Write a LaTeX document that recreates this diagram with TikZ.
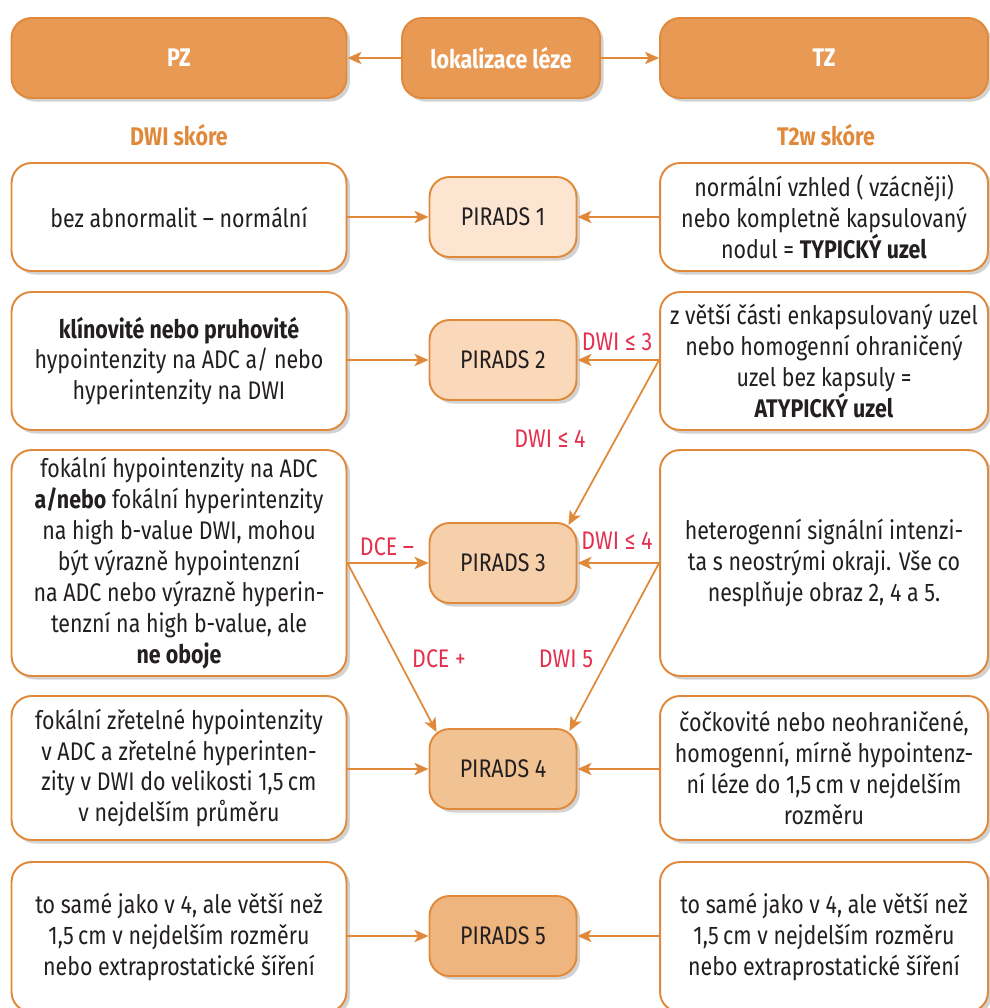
\documentclass[tikz,border=0pt]{standalone}
\usepackage{fontspec}
\setmainfont{Fira Sans}[FakeStretch=0.84]
\usepackage{xcolor}
\usepackage{tikz}
\usetikzlibrary{positioning}
\usetikzlibrary{calc}
\usetikzlibrary{shadows}
\usetikzlibrary{arrows.meta}

\definecolor{frame}{RGB}{224,137,58}
\definecolor{topfill}{RGB}{232,154,85}
\definecolor{ink}{RGB}{35,31,32}
\definecolor{cond}{RGB}{227,48,79}
\definecolor{pr1}{RGB}{252,230,210}
\definecolor{pr2}{RGB}{249,217,185}
\definecolor{pr3}{RGB}{246,208,170}
\definecolor{pr4}{RGB}{242,195,146}
\definecolor{pr5}{RGB}{238,182,126}

\begin{document}
\begin{tikzpicture}
    [%%%%%%%%%%%%%%%%%%%%%%%%%%%%%%
        x=0.02cm, y=-0.02cm,
        every node/.style={font=\fontsize{14.5}{17.6}\selectfont, text=ink},
        shade/.style={drop shadow={shadow xshift=2pt, shadow yshift=-2pt, opacity=0.25, fill=black!70}},
        head/.style={rectangle, rounded corners=0.4cm, draw=frame, fill=topfill, line width=1.1pt,
            minimum width=6.7cm, minimum height=1.6cm, text=white, font=\fontsize{14.5}{17.6}\selectfont\bfseries, shade},
        score/.style={text=frame, font=\fontsize{14.5}{17.6}\selectfont\bfseries},
        finding/.style={rectangle, rounded corners=0.4cm, draw=frame, fill=white, line width=1.1pt,
            minimum width=6.7cm, align=center, shade},
        grade/.style={rectangle, rounded corners=0.4cm, draw=frame, line width=1.1pt,
            minimum width=2.94cm, minimum height=1.6cm, shade},
        link/.style={draw=frame, line width=1pt, -{Stealth[length=8pt, width=7pt, inset=2pt]}},
        condlabel/.style={text=cond}
    ]%%%%%%%%%%%%%%%%%%%%%%%%%%%%%%

\clip (0,0) rectangle (990,1008);
\useasboundingbox (0,0) rectangle (990,1008);

% location
\node[head] (pz) at (179,58) {PZ};
\node[head, minimum width=3.96cm] (lok) at (501,58) {lokalizace léze};
\node[head, minimum width=6.56cm] (tz) at (824,58) {TZ};
\draw[link] (lok.west) -- (pz.east);
\draw[link] (lok.east) -- (tz.west);

\node[score] (dwi) at (179,135) {DWI skóre};
\node[score] (t2w) at (826,135) {T2w skóre};

% PIRADS grades
\foreach \n/\y/\c in {1/217/pr1, 2/360/pr2, 3/563/pr3, 4/769/pr4, 5/936/pr5}
{
    \node[grade, fill=\c] (p\n) at (503,\y) {PIRADS \n};
}

% PZ findings
\node[finding, minimum height=2.16cm] (l1) at (179,217) {bez abnormalit – normální};
\node[finding, minimum height=2.76cm] (l2) at (179,361) {\textbf{klínovité nebo pruhovité}\\ hypointenzity na ADC a/ nebo\\ hyperintenzity na DWI};
\node[finding, minimum height=4.52cm] (l3) at (179,563) {fokální hypointenzity na ADC\\ \textbf{a/nebo} fokální hyperintenzity\\ na high b-value DWI, mohou\\ být výrazně hypointenzní\\ na ADC nebo výrazně hyperin-\\ tenzní na high b-value, ale\\ \textbf{ne oboje}};
\node[finding, minimum height=2.88cm] (l4) at (179,768) {fokální zřetelné hypointenzity\\ v ADC a zřetelné hyperinten-\\ zity v DWI do velikosti 1,5\,cm\\ v nejdelším průměru};
\node[finding, minimum height=3.0cm] (l5) at (179,937) {to samé jako v 4, ale větší než\\ 1,5\,cm v nejdelším rozměru\\ nebo extraprostatické šíření};

% TZ findings
\node[finding, minimum width=6.56cm, minimum height=2.16cm] (r1) at (824,217) {normální vzhled ( vzácněji)\\ nebo kompletně kapsulovaný\\ nodul = \textbf{TYPICKÝ uzel}};
\node[finding, minimum width=6.56cm, minimum height=2.76cm] (r2) at (824,361) {z větší části enkapsulovaný uzel\\ nebo homogenní ohraničený\\ uzel bez kapsuly =\\ \textbf{ATYPICKÝ uzel}};
\node[finding, minimum width=6.56cm, minimum height=4.52cm] (r3) at (824,563) {heterogenní signální intenzi-\\ ta s neostrými okraji. Vše co\\ nesplňuje obraz 2, 4 a 5.};
\node[finding, minimum width=6.56cm, minimum height=2.88cm] (r4) at (824,768) {čočkovité nebo neohraničené,\\ homogenní, mírně hypointenz-\\ ní léze do 1,5\,cm v nejdelším\\ rozměru};
\node[finding, minimum width=6.56cm, minimum height=3.0cm] (r5) at (824,937) {to samé jako v 4, ale větší než\\ 1,5\,cm v nejdelším rozměru\\ nebo extraprostatické šíření};

% connectors
\foreach \n in {1,...,5}
{
    \draw[link] (l\n.east |- p\n) -- (p\n.west);
    \draw[link] (r\n.west |- p\n) -- (p\n.east);
}
\draw[link] (r2.west |- p2) -- ($(p3.north east)+(-9,3)$);
\draw[link] (l3.east |- p3) -- ($(p4.north west)+(8,4)$);
\draw[link] (r3.west |- p3) -- ($(p4.north east)+(-8,3)$);

% conditions
\node[condlabel] (c23) at (617,342) {DWI ≤ 3};
\node[condlabel] (c24) at (550,439) {DWI ≤ 4};
\node[condlabel] (cdm) at (387,547) {DCE –};
\node[condlabel] (c34) at (617,541) {DWI ≤ 4};
\node[condlabel] (cdp) at (439,659) {DCE +};
\node[condlabel] (c35) at (566,659) {DWI 5};

\end{tikzpicture}
\end{document}
